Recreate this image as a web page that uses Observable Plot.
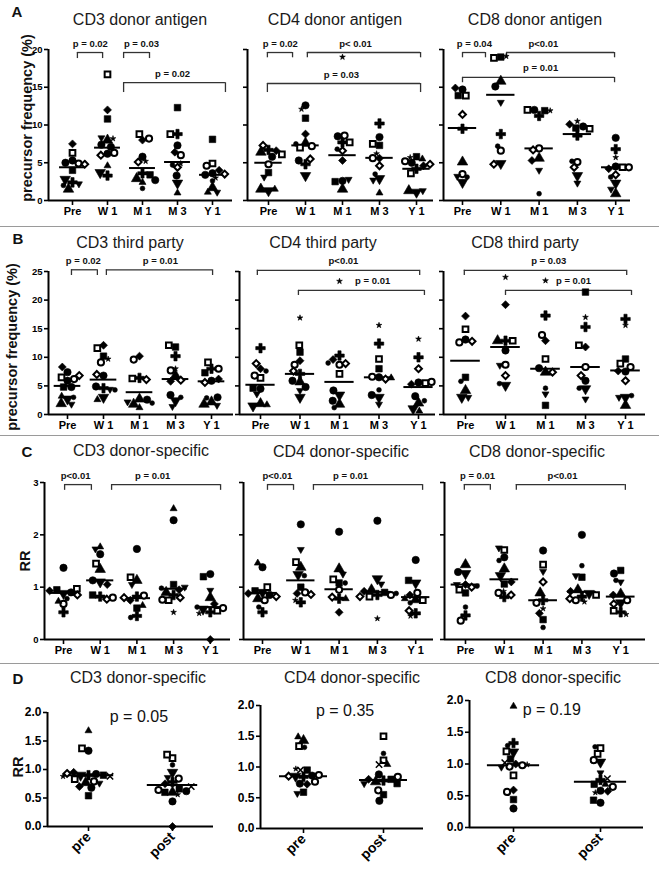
<!DOCTYPE html>
<html><head><meta charset="utf-8">
<script src="https://cdn.jsdelivr.net/npm/d3@7"></script>
<script src="https://cdn.jsdelivr.net/npm/@observablehq/plot@0.6"></script>
<style>
body{margin:0;background:#fff;}
#fig{position:relative;width:659px;height:872px;overflow:hidden;font-family:"Liberation Sans",Arial,Helvetica,sans-serif;color:#111;}
#fig svg{position:absolute;left:0;top:0;}
.t{position:absolute;white-space:nowrap;transform:translate(-50%,-50%);line-height:1;}
.title{font-size:16px;color:#1a1a1a;}
.letter{font-size:15px;font-weight:bold;}
.ylab{font-size:14.5px;font-weight:bold;transform:translate(-50%,-50%) rotate(-90deg);}
.sep{position:absolute;left:0;width:659px;height:0;border-top:1.5px solid #9a9a9a;}
svg.pl11 g[aria-label^="x-axis"] text{font-size:11px;}
svg.pl14 g[aria-label^="x-axis"] text{font-size:14px;}
svg.pl11 g[aria-label$="axis"] line, svg.pl14 g[aria-label$="axis"] line,
svg.pl11 g[aria-label$="tick"] path, svg.pl14 g[aria-label$="tick"] path{stroke-width:1.6;}
</style></head>
<body><div id="fig"></div>
<script>
// ---------------- DATA ----------------
const timeLabels = ["Pre", "W 1", "M 1", "M 3", "Y 1"];
const phaseLabels = ["pre", "post"];

// point values per time point: [value, symbol code]
const cd3DonorAntigen = [
  [[7.5,"d"],[5.3,"c"],[5.0,"c"],[6.3,"q"],[4.9,"o"],[4.8,"D"],[4.0,"s"],[2.8,"v"],[2.4,"p"],[2.2,"V"],[1.5,"t"],[2.0,"."]],
  [[16.7,"q"],[12.0,"d"],[10.8,"s"],[8.0,"t"],[8.2,"*"],[8.3,"V"],[7.4,"c"],[7.1,"c"],[6.0,"D"],[6.2,"c"],[6.3,"o"],[4.6,"T"],[3.3,"p"],[3.7,"v"]],
  [[8.2,"o"],[8.0,"d"],[8.8,"q"],[5.8,"c"],[5.1,"D"],[5.2,"*"],[3.6,"p"],[3.4,"s"],[2.9,"t"],[2.4,"T"],[1.6,"."],[2.7,"c"]],
  [[12.3,"s"],[8.8,"q"],[8.8,"p"],[7.3,"c"],[6.4,"d"],[6.0,"o"],[4.9,"*"],[4.7,"."],[4.4,"D"],[3.3,"c"],[2.3,"v"],[1.0,"T"]],
  [[8.1,"s"],[4.6,"o"],[4.9,"q"],[3.5,"D"],[3.6,"c"],[3.4,"c"],[3.0,"*"],[2.6,"."],[1.7,"t"],[1.1,"T"],[1.1,"V"],[4.0,"d"]]
];
const cd3DonorAntigenMean = [4.4, 7.0, 4.3, 5.1, 3.4];
const cd3DonorAntigenP = [
  {a:0.14, b:0.86, y:19.6, y2:18.8, lx:0.51, label:"p = 0.02"},
  {a:1.46, b:2.2, y:19.6, y2:18.8, lx:1.97, label:"p = 0.03"},
  {a:1.46, b:4.37, y:15.6, y2:14.3, lx:2.86, label:"p = 0.02"}
];

const cd4DonorAntigen = [
  [[7.3,"D"],[6.7,"p"],[6.4,"t"],[6.1,"q"],[6.6,"d"],[5.8,"c"],[4.8,"o"],[3.7,"s"],[3.1,"V"],[1.5,"T"],[1.3,"v"],[1.5,"t"]],
  [[12.6,"c"],[12.1,"*"],[10.9,"s"],[8.8,"d"],[7.6,"t"],[7.2,"o"],[7.5,"."],[5.5,"D"],[5.3,"c"],[4.8,"p"],[3.3,"v"],[7.0,"q"]],
  [[19.0,"*"],[8.6,"o"],[8.5,"c"],[7.7,"p"],[7.7,"q"],[6.6,"D"],[5.3,"d"],[2.8,"V"],[2.6,"c"],[2.5,"s"],[1.5,"t"],[6.8,"."]],
  [[10.2,"p"],[8.4,"c"],[7.3,"s"],[7.5,"q"],[6.2,"*"],[5.6,"d"],[5.6,"o"],[4.6,"D"],[3.5,"."],[2.9,"v"],[2.7,"V"],[1.0,"T"]],
  [[5.7,"*"],[5.8,"s"],[5.5,"T"],[5.2,"o"],[5.0,"c"],[4.8,"D"],[4.6,"d"],[3.6,"q"],[1.3,"V"],[1.1,"v"],[1.3,"t"],[4.2,"p"]]
];
const cd4DonorAntigenMean = [5.0, 7.3, 6.0, 5.65, 4.2];
const cd4DonorAntigenP = [
  {a:-0.03, b:0.65, y:19.6, y2:18.9, lx:0.32, label:"p = 0.02"},
  {a:1.05, b:4.11, y:19.6, y2:18.9, lx:2.35, label:"p< 0.01"},
  {a:-0.03, b:4.11, y:15.5, y2:14.3, lx:1.97, label:"p = 0.03"}
];

const cd8DonorAntigen = [
  [[14.7,"c"],[14.9,"d"],[13.9,"s"],[13.9,"q"],[11.4,"D"],[9.5,"p"],[5.1,"t"],[3.2,"V"],[3.5,"o"],[2.4,"v"],[3.1,"."]],
  [[19.0,"s"],[18.9,"q"],[19.1,"*"],[15.8,"t"],[15.1,"c"],[13.0,"V"],[8.8,"p"],[7.2,"."],[6.6,"o"],[4.8,"D"],[4.9,"v"]],
  [[12.0,"c"],[12.0,"q"],[11.9,"s"],[11.9,"*"],[11.2,"p"],[6.9,"o"],[6.7,"D"],[5.6,"t"],[5.3,"d"],[4.0,"V"],[0.9,"."]],
  [[10.5,"*"],[9.6,"s"],[10.1,"d"],[9.8,"c"],[9.5,"q"],[8.6,"p"],[5.1,"o"],[4.4,"D"],[5.2,"."],[3.3,"v"],[2.3,"V"]],
  [[8.3,"c"],[6.8,"p"],[5.7,"*"],[4.4,"q"],[4.4,"o"],[4.5,"c"],[3.4,"D"],[3.1,"."],[2.3,"v"],[0.9,"t"],[1.5,"V"],[4.2,"d"]]
];
const cd8DonorAntigenMean = [9.6, 14.0, 6.9, 8.8, 4.4];
const cd8DonorAntigenP = [
  {a:0, b:0.6, y:19.6, y2:18.9, lx:0.31, label:"p = 0.04"},
  {a:1.15, b:3.97, y:19.6, y2:18.9, lx:2.11, label:"p<0.01"},
  {a:0, b:3.97, y:16.3, y2:15.6, lx:2.04, label:"p = 0.01"}
];

const cd3ThirdParty = [
  [[8.3,"d"],[7.4,"c"],[6.2,"o"],[6.5,"q"],[5.9,"c"],[6.8,"D"],[4.8,"s"],[4.8,"c"],[3.2,"T"],[3.0,"."],[2.7,"v"],[1.9,"t"],[1.8,"V"]],
  [[12.1,"d"],[11.6,"q"],[9.7,"*"],[10.2,"s"],[9.1,"o"],[7.0,"D"],[6.8,"c"],[4.9,"c"],[4.6,"p"],[4.4,"V"],[4.3,"."],[3.0,"v"],[2.6,"T"]],
  [[10.2,"d"],[9.6,"o"],[6.3,"q"],[6.1,"D"],[6.4,"p"],[2.7,"t"],[2.6,"c"],[2.2,"V"],[1.8,"t"],[2.0,"."],[1.2,"T"]],
  [[12.1,"q"],[11.8,"s"],[10.2,"p"],[8.0,"*"],[7.7,"o"],[6.8,"t"],[6.0,"D"],[5.8,"d"],[3.4,"c"],[3.0,"."],[2.4,"v"],[1.4,"V"]],
  [[9.1,"q"],[8.0,"o"],[8.0,"p"],[7.3,"s"],[6.2,"d"],[5.6,"D"],[5.9,"c"],[3.0,"c"],[2.9,"."],[2.2,"t"],[1.6,"V"],[1.8,"t"]]
];
const cd3ThirdPartyMean = [5.0, 6.1, 3.9, 6.2, 5.8];
const cd3ThirdPartyP = [
  {a:0.11, b:0.83, y:25.3, y2:24.3, lx:0.44, label:"p = 0.02"},
  {a:1.08, b:4.03, y:25.3, y2:24.3, lx:2.58, label:"p = 0.01"}
];

const cd4ThirdParty = [
  [[11.6,"p"],[8.9,"D"],[8.0,"d"],[7.6,"."],[6.4,"q"],[6.8,"o"],[4.5,"c"],[4.6,"s"],[3.6,"V"],[1.9,"t"],[1.7,"T"],[1.5,"v"]],
  [[16.9,"*"],[12.1,"q"],[10.9,"s"],[9.4,"d"],[8.7,"o"],[7.6,"D"],[7.1,"p"],[5.9,"c"],[5.7,"t"],[4.8,"c"],[4.2,"V"],[3.0,"v"]],
  [[23.3,"*"],[10.3,"p"],[9.6,"d"],[8.7,"o"],[8.9,"D"],[9.0,"."],[7.1,"q"],[4.2,"c"],[3.4,"v"],[2.4,"c"],[1.8,"t"],[1.2,"."]],
  [[15.6,"*"],[12.4,"p"],[9.7,"q"],[8.0,"s"],[6.6,"o"],[6.2,"D"],[6.5,"c"],[6.4,"T"],[3.4,"c"],[3.0,"v"],[4.3,"."],[1.8,"V"]],
  [[13.2,"*"],[10.0,"p"],[8.0,"D"],[5.7,"o"],[5.6,"c"],[5.5,"q"],[5.3,"d"],[3.2,"c"],[2.0,"t"],[1.0,"v"],[0.6,"T"],[2.4,"."]]
];
const cd4ThirdPartyMean = [5.2, 7.1, 5.7, 6.5, 4.8];
const cd4ThirdPartyP = [
  {a:-0.08, b:4.03, y:25.2, y2:24.3, lx:2.1, label:"p<0.01"},
  {a:0.96, b:4.15, y:21.7, y2:20.8, lx:2.84, label:"p = 0.01"}
];

const cd8ThirdParty = [
  [[17.2,"d"],[14.9,"q"],[13.1,"c"],[12.6,"o"],[12.8,"D"],[6.5,"s"],[5.8,"."],[4.2,"t"],[3.0,"v"],[3.0,"V"]],
  [[24.0,"*"],[19.2,"d"],[12.9,"q"],[12.9,"t"],[12.9,"p"],[11.2,"c"],[8.6,"V"],[8.7,"o"],[6.8,"D"],[5.1,"v"],[5.4,"."]],
  [[23.4,"*"],[17.3,"p"],[13.9,"o"],[12.9,"d"],[9.7,"q"],[8.1,"c"],[7.4,"t"],[7.4,"D"],[4.6,"."],[3.6,"V"],[1.6,"s"]],
  [[21.4,"s"],[17.0,"*"],[15.3,"p"],[12.1,"q"],[11.8,"d"],[8.3,"o"],[6.8,"D"],[5.9,"c"],[4.6,"."],[4.5,"v"],[2.7,"V"]],
  [[16.7,"p"],[15.6,"*"],[9.7,"s"],[8.9,"q"],[8.3,"o"],[7.6,"d"],[5.9,"D"],[3.3,"."],[3.0,"v"],[3.0,"V"],[1.6,"t"],[7.5,"c"]]
];
const cd8ThirdPartyMean = [9.4, 11.8, 8.0, 8.3, 7.7];
const cd8ThirdPartyP = [
  {a:-0.03, b:4.03, y:25.2, y2:24.3, lx:2.08, label:"p = 0.03"},
  {a:1.0, b:4.15, y:21.7, y2:20.8, lx:2.7, label:"p = 0.01"}
];

const cd3DonorSpecific = [
  [[1.37,"c"],[0.97,"q"],[0.95,"s"],[0.93,"d"],[0.90,"c"],[0.88,"v"],[0.85,"D"],[0.78,"."],[0.73,"T"],[0.68,"o"],[0.52,"p"]],
  [[1.77,"T"],[1.73,"V"],[1.63,"c"],[1.45,"q"],[1.34,"t"],[1.13,"c"],[1.10,"v"],[1.05,"d"],[0.82,"p"],[0.77,"D"],[0.80,"o"],[0.85,"s"]],
  [[1.73,"c"],[1.13,"t"],[1.05,"V"],[1.19,"q"],[0.84,"o"],[0.82,"p"],[0.80,"D"],[0.75,"d"],[0.65,"T"],[0.60,"s"],[0.42,"."],[0.45,"p"]],
  [[2.5,"T"],[2.28,"c"],[1.05,"s"],[1.0,"V"],[0.98,"."],[0.95,"d"],[0.90,"t"],[0.85,"p"],[0.80,"D"],[0.75,"q"],[0.76,"o"],[0.52,"*"]],
  [[1.25,"c"],[1.20,"s"],[0.94,"V"],[0.80,"t"],[0.68,"d"],[0.62,"."],[0.60,"o"],[0.58,"v"],[0.55,"q"],[0.50,"*"],[0.52,"p"],[0.0,"d"]]
];
const cd3DonorSpecificMean = [0.89, 1.13, 0.79, 0.97, 0.62];
const cd3DonorSpecificP = [
  {a:0.03, b:0.76, y:2.96, y2:2.85, lx:0.33, label:"p<0.01"},
  {a:1.31, b:4.28, y:2.96, y2:2.85, lx:2.43, label:"p = 0.01"}
];

const cd4DonorSpecific = [
  [[1.46,"T"],[1.38,"c"],[1.0,"q"],[0.93,"s"],[0.90,"v"],[0.88,"d"],[0.85,"c"],[0.82,"D"],[0.78,"t"],[0.75,"o"],[0.62,"."],[0.52,"p"]],
  [[2.2,"c"],[1.72,"V"],[1.48,"q"],[1.38,"t"],[1.24,"v"],[1.22,"."],[1.0,"s"],[0.90,"o"],[0.88,"d"],[0.86,"D"],[0.71,"p"],[0.75,"*"]],
  [[2.06,"c"],[1.35,"t"],[1.25,"V"],[1.15,"q"],[1.08,"s"],[1.08,"."],[0.95,"o"],[0.78,"p"],[0.78,"T"],[0.81,"D"],[0.52,"d"]],
  [[2.27,"c"],[1.16,"v"],[1.06,"V"],[0.95,"t"],[0.92,"d"],[0.90,"s"],[0.88,"."],[0.85,"o"],[0.82,"q"],[0.82,"D"],[0.85,"p"],[0.40,"*"]],
  [[1.52,"c"],[1.13,"s"],[1.08,"v"],[0.89,"o"],[0.85,"d"],[0.76,"t"],[0.75,"q"],[0.78,"T"],[0.70,"."],[0.55,"D"],[0.45,"*"],[0.50,"p"]]
];
const cd4DonorSpecificMean = [0.89, 1.13, 0.96, 0.91, 0.81];
const cd4DonorSpecificP = [
  {a:0.13, b:0.81, y:2.96, y2:2.85, lx:0.39, label:"p<0.01"},
  {a:1.33, b:4.18, y:2.96, y2:2.85, lx:2.3, label:"p = 0.01"}
];

const cd8DonorSpecific = [
  [[1.43,"t"],[1.29,"c"],[1.26,"v"],[1.05,"d"],[1.05,"V"],[1.0,"D"],[1.02,"."],[0.89,"s"],[0.62,"."],[0.46,"p"],[0.36,"o"],[0.95,"q"]],
  [[1.71,"q"],[1.75,"V"],[1.57,"c"],[1.51,"."],[1.35,"t"],[1.22,"v"],[1.06,"s"],[0.89,"o"],[0.85,"D"],[0.81,"p"],[0.92,"*"],[1.1,"d"]],
  [[1.70,"c"],[1.43,"q"],[1.30,"V"],[1.10,"D"],[0.89,"t"],[0.75,"p"],[0.70,"o"],[0.59,"*"],[0.50,"d"],[0.38,"s"],[0.23,"."]],
  [[2.0,"c"],[1.41,"."],[1.22,"V"],[1.19,"s"],[0.95,"t"],[0.92,"d"],[0.88,"v"],[0.85,"q"],[0.82,"p"],[0.75,"o"],[0.78,"D"],[0.72,"*"]],
  [[1.32,"s"],[1.26,"c"],[1.13,"."],[1.10,"V"],[0.87,"t"],[0.85,"d"],[0.75,"o"],[0.68,"D"],[0.55,"q"],[0.48,"*"],[0.52,"p"],[0.70,"v"]]
];
const cd8DonorSpecificMean = [1.05, 1.15, 0.75, 0.91, 0.82];
const cd8DonorSpecificP = [
  {a:-0.03, b:0.64, y:2.96, y2:2.85, lx:0.31, label:"p = 0.01"},
  {a:1.31, b:4.12, y:2.96, y2:2.85, lx:2.5, label:"p<0.01"}
];

const cd3PrePost = [
  [[1.68,"T"],[1.33,"c"],[1.37,"q"],[0.95,"d"],[0.93,"D"],[0.92,"c"],[0.90,"s"],[0.90,"p"],[0.88,"x"],[0.88,"*"],[0.90,"v"],[0.83,"q"],[0.76,"V"],[0.79,"o"],[0.77,"t"],[0.70,"d"],[0.68,"c"],[0.54,"s"]],
  [[1.20,"q"],[1.26,"q"],[1.08,"."],[0.95,"v"],[0.86,"V"],[0.84,"o"],[0.78,"p"],[0.75,"d"],[0.64,"o"],[0.60,"t"],[0.60,"s"],[0.66,"s"],[0.56,"*"],[0.44,"c"],[0.0,"d"],[0.70,"x"],[0.62,"c"]]
];
const cd3PrePostMean = [0.90, 0.73];
const cd3PrePostP = [{x:0.6, y:1.93, label:"p = 0.05"}];

const cd4PrePost = [
  [[1.49,"T"],[1.43,"t"],[1.34,"q"],[1.32,"."],[0.97,"*"],[0.95,"x"],[0.95,"s"],[0.85,"v"],[0.85,"D"],[0.86,"c"],[0.87,"o"],[0.84,"p"],[0.72,"d"],[0.73,"c"],[0.76,"o"],[0.57,"V"],[0.59,"s"]],
  [[1.50,"q"],[1.22,"."],[1.11,"q"],[1.04,"T"],[1.04,"x"],[0.88,"c"],[0.84,"o"],[0.80,"d"],[0.78,"p"],[0.80,"s"],[0.73,"s"],[0.73,"V"],[0.76,"t"],[0.62,"o"],[0.55,"s"],[0.45,"c"]]
];
const cd4PrePostMean = [0.85, 0.79];
const cd4PrePostP = [{x:0.52, y:1.92, label:"p = 0.35"}];

const cd8PrePost = [
  [[1.91,"T"],[1.33,"p"],[1.29,"."],[1.19,"v"],[1.20,"q"],[1.08,"s"],[1.02,"x"],[0.96,"o"],[0.98,"o"],[0.99,"*"],[0.95,"V"],[0.82,"q"],[0.56,"o"],[0.59,"d"],[0.44,"s"],[0.30,"c"],[1.0,"d"]],
  [[1.25,"q"],[1.27,"."],[1.16,"q"],[1.06,"o"],[1.03,"v"],[0.86,"V"],[0.77,"x"],[0.75,"p"],[0.68,"T"],[0.68,"s"],[0.64,"o"],[0.57,"d"],[0.55,"*"],[0.58,"c"],[0.39,"c"],[0.43,"s"]]
];
const cd8PrePostMean = [0.98, 0.72];
const cd8PrePostP = [{x:0.44, y:1.86, label:"p = 0.19"}];

const ticksA = [0, 5, 10, 15, 20];
const ticksB = [0, 5, 10, 15, 20, 25];
const ticksC = [0, 1, 2, 3];
const ticksD = [0, 0.5, 1, 1.5, 2];

// ---------------- DRAWING ----------------
const W = 659, H = 872;
const FONT = '"Liberation Sans", Arial, Helvetica, sans-serif';
const fig = document.getElementById("fig");
const codes = ["c","o","s","q","d","D","t","v","T","V","p","*",".","x"];
const symNames = ["circle","circle","square","square","diamond2","diamond2","triangle","triangle","triangle","triangle","cross","star","circle","times"];
const fills = ["#000","#fff","#000","#fff","#000","#fff","#000","#000","#000","#000","#000","#000","#000","none"];
const radius = {c:3.7,o:3.1,s:3.7,q:3.2,d:3.6,D:3.1,t:3.9,v:3.9,T:2.6,V:2.6,p:4.0,"*":1.8,".":2.4,x:3.0};
const openSet = new Set(["o","q","D"]);

function addText(txt, x, y, cls) {
  const d = document.createElement("div");
  d.className = "t " + cls; d.textContent = txt;
  d.style.left = x + "px"; d.style.top = y + "px";
  fig.appendChild(d);
}
function addSep(y) {
  const d = document.createElement("div");
  d.className = "sep"; d.style.top = y + "px"; fig.appendChild(d);
}

function drawPanel(p) {
  const n = p.labels.length;
  const xmin = (p.axisX - p.x0) / p.dx, xmax = (p.xEnd - p.x0) / p.dx;
  const marks = [
    Plot.ruleY([p.yDomain[0]], {stroke: "#000", strokeWidth: 2}),
    Plot.ruleX([xmin], {y1: p.yDomain[0], y2: p.yDomain[1], stroke: "#000", strokeWidth: 2}),
    Plot.ruleY(p.means, {x1: (d, i) => i - p.meanW, x2: (d, i) => i + p.meanW, y: d => d, stroke: "#000", strokeWidth: 2})
  ];
  if (p.brackets) {
    marks.push(
      Plot.ruleY(p.brackets, {x1: "a", x2: "b", y: "y", stroke: "#333", strokeWidth: 1.3}),
      Plot.ruleX(p.brackets, {x: "a", y1: "y", y2: "y2", stroke: "#333", strokeWidth: 1.3}),
      Plot.ruleX(p.brackets, {x: "b", y1: "y", y2: "y2", stroke: "#333", strokeWidth: 1.3}),
      Plot.text(p.brackets, {x: "lx", y: "y", text: "label", dy: -9, fontSize: 9.5, fontWeight: "bold", fill: "#111"})
    );
  }
  if (p.ptext) {
    marks.push(Plot.text(p.ptext, {x: "x", y: "y", text: "label", fontSize: 16, fontWeight: "normal", fill: "#111"}));
  }
  const frame = Plot.plot({
    width: W, height: H,
    marginLeft: p.axisX, marginRight: W - p.xEnd, marginTop: p.yTop, marginBottom: H - p.yZero,
    className: p.xCls,
    style: {background: "none", fontFamily: FONT, fontWeight: "bold", fontSize: p.yFont + "px", color: "#000", overflow: "visible"},
    x: {domain: [xmin, xmax], ticks: d3.range(n), tickFormat: i => p.labels[i], tickSize: 5, tickPadding: p.rot ? 3 : 2, label: null, tickRotate: p.rot || 0},
    y: {domain: p.yDomain, ticks: p.yTicks, tickFormat: p.showY ? p.yFmt : () => "", tickSize: 4, tickPadding: 2, label: null},
    marks
  });
  fig.appendChild(frame);

  const rows = p.data.flatMap((col, i) => col.map(([v, s]) => ({t: p.labels[i], v, s})));
  const dots = Plot.plot({
    width: W, height: H,
    marginLeft: p.x0 - p.dx / 2, marginRight: W - (p.x0 + (n - 0.5) * p.dx),
    marginTop: p.yTop, marginBottom: H - p.yZero,
    style: {background: "none", overflow: "visible"},
    facet: {data: rows, x: "t"},
    fx: {domain: p.labels, padding: 0, axis: null, round: false},
    y: {domain: p.yDomain, axis: null},
    symbol: {type: "ordinal", domain: codes, range: symNames},
    color: {type: "ordinal", domain: codes, range: fills},
    r: {type: "identity"},
    marks: [
      Plot.dot(rows, Plot.dodgeX({anchor: "middle", padding: 0}, {
        y: "v", r: d => radius[d.s], symbol: "s", fill: "s", stroke: "#000",
        strokeWidth: d => openSet.has(d.s) ? 2 : (d.s === "x" ? 1.5 : 0.6),
        rotate: d => (d.s === "v" || d.s === "V") ? 180 : 0
      }))
    ]
  });
  fig.appendChild(dots);
}

try {
const fmtInt = d3.format("d"), fmt1 = d3.format(".1f");
const rowA = {labels: timeLabels, yTop: 49, yZero: 200, yDomain: [0, 20], yTicks: ticksA, yFmt: fmtInt, yFont: 9.5, xCls: "pl11", meanW: 0.37};
const rowB = {labels: timeLabels, yTop: 271, yZero: 414, yDomain: [0, 25], yTicks: ticksB, yFmt: fmtInt, yFont: 9.5, xCls: "pl11", meanW: 0.37};
const rowC = {labels: timeLabels, yTop: 482, yZero: 639, yDomain: [0, 3], yTicks: ticksC, yFmt: fmtInt, yFont: 9.5, xCls: "pl11", meanW: 0.37};
const rowD = {labels: phaseLabels, yDomain: [0, 2], yTicks: ticksD, yFmt: fmt1, yFont: 12, xCls: "pl14", meanW: 0.3, rot: -45, showY: true};

drawPanel({...rowA, data: cd3DonorAntigen, means: cd3DonorAntigenMean, brackets: cd3DonorAntigenP, axisX: 48, x0: 72, dx: 35, xEnd: 232, showY: true});
drawPanel({...rowA, data: cd4DonorAntigen, means: cd4DonorAntigenMean, brackets: cd4DonorAntigenP, axisX: 247, x0: 268, dx: 37, xEnd: 433});
drawPanel({...rowA, data: cd8DonorAntigen, means: cd8DonorAntigenMean, brackets: cd8DonorAntigenP, axisX: 443, x0: 462, dx: 38.3, xEnd: 630});

drawPanel({...rowB, data: cd3ThirdParty, means: cd3ThirdPartyMean, brackets: cd3ThirdPartyP, axisX: 48, x0: 67, dx: 36, xEnd: 233, showY: true});
drawPanel({...rowB, data: cd4ThirdParty, means: cd4ThirdPartyMean, brackets: cd4ThirdPartyP, axisX: 239, x0: 260, dx: 39.5, xEnd: 435});
drawPanel({...rowB, data: cd8ThirdParty, means: cd8ThirdPartyMean, brackets: cd8ThirdPartyP, axisX: 443, x0: 465, dx: 40, xEnd: 645});

drawPanel({...rowC, data: cd3DonorSpecific, means: cd3DonorSpecificMean, brackets: cd3DonorSpecificP, axisX: 44, x0: 63, dx: 36.7, xEnd: 230, showY: true});
drawPanel({...rowC, data: cd4DonorSpecific, means: cd4DonorSpecificMean, brackets: cd4DonorSpecificP, axisX: 243, x0: 262, dx: 38.3, xEnd: 433});
drawPanel({...rowC, data: cd8DonorSpecific, means: cd8DonorSpecificMean, brackets: cd8DonorSpecificP, axisX: 444, x0: 465, dx: 38.8, xEnd: 645});

drawPanel({...rowD, data: cd3PrePost, means: cd3PrePostMean, ptext: cd3PrePostP, axisX: 47, x0: 88, dx: 84, xEnd: 213, yTop: 712, yZero: 826});
drawPanel({...rowD, data: cd4PrePost, means: cd4PrePostMean, ptext: cd4PrePostP, axisX: 260, x0: 303, dx: 80, xEnd: 423, yTop: 705, yZero: 828});
drawPanel({...rowD, data: cd8PrePost, means: cd8PrePostMean, ptext: cd8PrePostP, axisX: 469, x0: 513, dx: 87, xEnd: 643, yTop: 700, yZero: 827});
} catch (e) {
  const pre = document.createElement("pre"); pre.textContent = e.stack || e; pre.style.position = "absolute"; pre.style.zIndex = 9; fig.appendChild(pre);
}

// titles, letters, axis labels, separators
addText("A", 17, 11, "letter");
addText("B", 18, 238, "letter");
addText("C", 27, 451, "letter");
addText("D", 18, 678, "letter");
addText("CD3 donor antigen", 140, 20, "title");
addText("CD4 donor antigen", 335, 20, "title");
addText("CD8 donor antigen", 535, 20, "title");
addText("CD3 third party", 130, 243, "title");
addText("CD4 third party", 323, 243, "title");
addText("CD8 third party", 525, 243, "title");
addText("CD3 donor-specific", 141, 451, "title");
addText("CD4 donor-specific", 341, 452, "title");
addText("CD8 donor-specific", 537, 452, "title");
addText("CD3 donor-specific", 138, 678, "title");
addText("CD4 donor-specific", 352, 678, "title");
addText("CD8 donor-specific", 553, 678, "title");
addText("precursor frequency (%)", 27, 118, "ylab");
addText("precursor frequency (%)", 12, 347, "ylab");
addText("RR", 25, 561, "ylab");
addText("RR", 18, 767, "ylab");
addSep(226); addSep(435); addSep(663);
</script>
</body></html>
